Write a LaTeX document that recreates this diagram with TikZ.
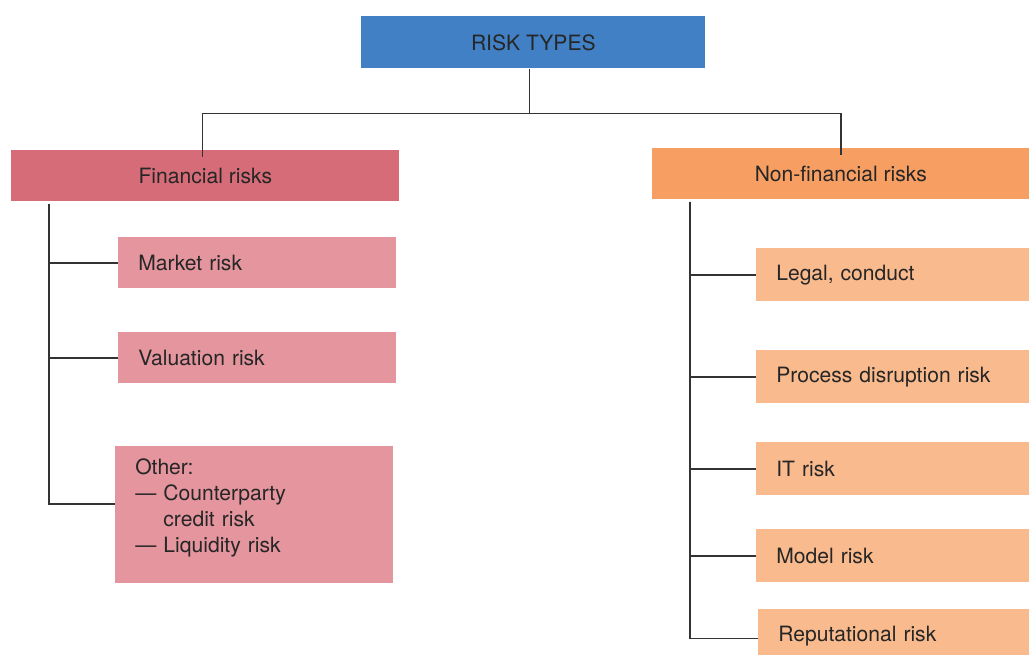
\documentclass[tikz,border=0pt]{standalone}
\usepackage{fontspec}
\setmainfont{TeX Gyre Heros}
\usetikzlibrary{calc}
\definecolor{typesblue}{HTML}{4180C4}
\definecolor{finred}{HTML}{D76C79}
\definecolor{finpink}{HTML}{E4959E}
\definecolor{nonfinorange}{HTML}{F79F63}
\definecolor{nonfinpeach}{HTML}{F9BA8D}
\definecolor{linkgray}{HTML}{333333}

\begin{document}
\begin{tikzpicture}[x=0.02cm, y=-0.02cm,
		every node/.style={font=\fontsize{12}{14.8}\selectfont, text=black!85},
		headbox/.style={anchor=north west, inner sep=0pt, align=center},
		subbox/.style={anchor=north west, inner xsep=0.4cm, inner ysep=0pt, align=left},
		link/.style={draw=linkgray, line width=0.8pt}]
		%%%%% START %%%%%
		\useasboundingbox (0, 0) rectangle (1029, 655);
		
		\node[headbox, fill=typesblue, minimum width=6.88cm, minimum height=1.04cm] (types) at (361, 16) {RISK TYPES};
		
		\node[headbox, fill=finred, minimum width=7.76cm, minimum height=1.02cm] (fin) at (11, 150) {Financial risks};
		\node[headbox, fill=nonfinorange, minimum width=7.54cm, minimum height=1.02cm] (nonfin) at (652, 148) {Non-financial risks};
		
		\node[subbox, fill=finpink, text width=4.76cm, minimum height=1.02cm] (market) at (118, 237) {Market risk};
		\node[subbox, fill=finpink, text width=4.76cm, minimum height=1.02cm] (valuation) at (118, 332) {Valuation risk};
		\node[subbox, fill=finpink, text width=4.76cm, minimum height=2.74cm] (other) at (115, 446) {Other:\\--- Counterparty\\\phantom{--- }credit risk\\--- Liquidity risk\\[-4pt]\mbox{}};
		
		\node[subbox, fill=nonfinpeach, text width=4.66cm, minimum height=1.06cm] (legal) at (756, 248) {Legal, conduct};
		\node[subbox, fill=nonfinpeach, text width=4.66cm, minimum height=1.06cm] (process) at (756, 350) {Process disruption risk};
		\node[subbox, fill=nonfinpeach, text width=4.66cm, minimum height=1.06cm] (it) at (756, 442) {IT risk};
		\node[subbox, fill=nonfinpeach, text width=4.66cm, minimum height=1.06cm] (model) at (756, 529) {Model risk};
		\node[subbox, fill=nonfinpeach, text width=4.62cm, minimum height=1.08cm] (reput) at (758, 609) {Reputational risk};
		
		% top level
		\draw[link] ($(types.south)+(-4, 0)$) -- ++(0, 45) coordinate (split);
		\draw[link] (split -| fin.north) ++(-3, 0) -- ($(fin.north)+(-3, 7)$);
		\draw[link] (split -| fin.north) ++(-3, 0) -| ($(nonfin.north)+(0, 7)$);
		
		% financial branch
		\coordinate (ltrunk) at ($(fin.south west)+(38, 2)$);
		\draw[link] (ltrunk) |- (market.west);
		\draw[link] (ltrunk) |- (valuation.west);
		\draw[link] (ltrunk) |- ($(other.west)+(0, -11)$);
		
		% non-financial branch
		\coordinate (rtrunk) at ($(nonfin.south west)+(38, 2)$);
		\draw[link] (rtrunk) |- (legal.west);
		\draw[link] (rtrunk) |- (process.west);
		\draw[link] (rtrunk) |- (it.west);
		\draw[link] (rtrunk) |- (model.west);
		\draw[link] (rtrunk) |- ($(reput.west)+(0, 2)$);
		%%%%% END %%%%%
	\end{tikzpicture}
\end{document}
